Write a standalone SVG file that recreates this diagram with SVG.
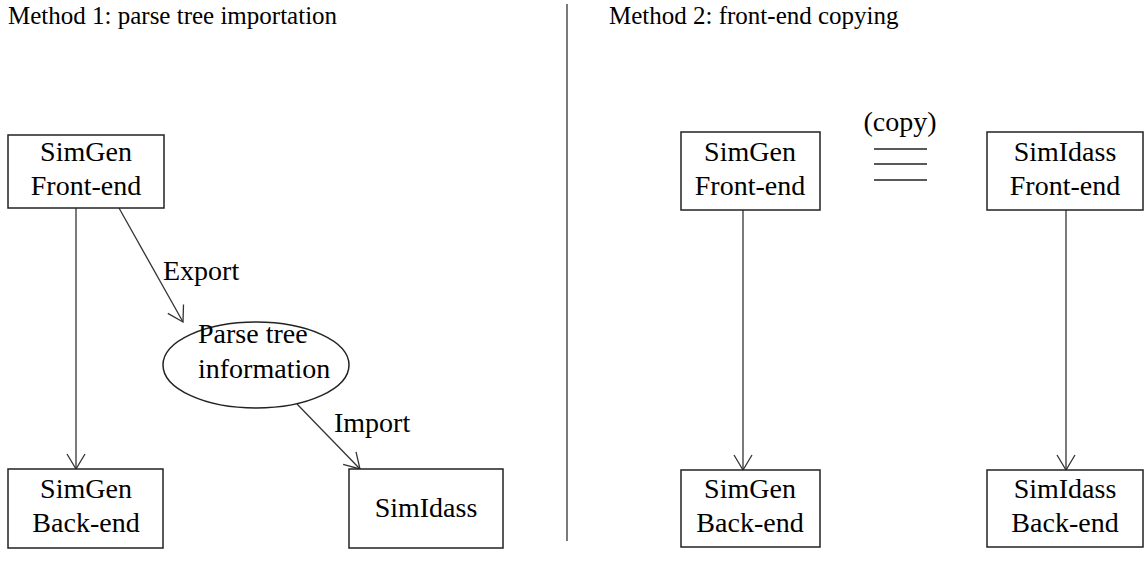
<svg xmlns="http://www.w3.org/2000/svg" width="1147" height="569" viewBox="0 0 1147 569">
<style>
.t,.n,.l{font-family:"Liberation Serif","Times New Roman",serif;fill:#000}
.t{font-size:25px}
.n{font-size:28px;text-anchor:middle}
.l{font-size:28px}
.box{fill:#fff;stroke:#222;stroke-width:1.5}
.edge{fill:none;stroke:#333;stroke-width:1.3}
</style>
<defs>
<marker id="arr" markerUnits="userSpaceOnUse" markerWidth="30" markerHeight="30" viewBox="-20 -15 30 30" refX="0" refY="0" orient="auto" overflow="visible">
<path d="M-15,-9 L0,0 L-15,9" fill="none" stroke="#333" stroke-width="1.3"/>
</marker>
</defs>
<rect width="1147" height="569" fill="#fff"/>
<text class="t" x="8" y="24">Method 1: parse tree importation</text>
<text class="t" x="609" y="24">Method 2: front-end copying</text>
<line x1="567" y1="4" x2="567" y2="541" stroke="#333" stroke-width="1.3"/>

<g id="connectors">
<line class="edge" x1="76" y1="208" x2="76" y2="469" marker-end="url(#arr)"/>
<line class="edge" x1="119" y1="208" x2="183" y2="322" marker-end="url(#arr)"/>
<line class="edge" x1="297" y1="404" x2="360" y2="469" marker-end="url(#arr)"/>
<line class="edge" x1="743" y1="210" x2="743" y2="470" marker-end="url(#arr)"/>
<line class="edge" x1="1066" y1="210" x2="1066" y2="470" marker-end="url(#arr)"/>
<text class="l" x="163" y="280">Export</text>
<text class="l" x="334" y="432">Import</text>
</g>

<g id="simgen-frontend-1">
<rect class="box" x="8" y="135" width="156" height="73"/>
<text class="n" x="86" y="161">SimGen</text>
<text class="n" x="86" y="195">Front-end</text>
</g>
<g id="simgen-backend-1">
<rect class="box" x="8" y="469" width="155" height="79"/>
<text class="n" x="86" y="498">SimGen</text>
<text class="n" x="86" y="532">Back-end</text>
</g>
<g id="parse-tree">
<ellipse cx="256" cy="365" rx="93" ry="43" fill="#fff" stroke="#222" stroke-width="1.5"/>
<text class="l" x="198" y="343">Parse tree</text>
<text class="l" x="198" y="378">information</text>
</g>
<g id="simidass-1">
<rect class="box" x="349" y="469" width="154" height="79"/>
<text class="n" x="426" y="517">SimIdass</text>
</g>

<g id="simgen-frontend-2">
<rect class="box" x="681" y="132" width="139" height="78"/>
<text class="n" x="750" y="161">SimGen</text>
<text class="n" x="750" y="195">Front-end</text>
</g>
<g id="copy">
<text class="n" x="900" y="131">(copy)</text>
<line x1="874" y1="149" x2="927" y2="149" stroke="#222" stroke-width="1.5"/>
<line x1="874" y1="164" x2="927" y2="164" stroke="#222" stroke-width="1.5"/>
<line x1="874" y1="180" x2="927" y2="180" stroke="#222" stroke-width="1.5"/>
</g>
<g id="simidass-frontend-2">
<rect class="box" x="987" y="132" width="156" height="78"/>
<text class="n" x="1065" y="161">SimIdass</text>
<text class="n" x="1065" y="195">Front-end</text>
</g>
<g id="simgen-backend-2">
<rect class="box" x="681" y="470" width="139" height="77"/>
<text class="n" x="750" y="498">SimGen</text>
<text class="n" x="750" y="532">Back-end</text>
</g>
<g id="simidass-backend-2">
<rect class="box" x="987" y="470" width="156" height="77"/>
<text class="n" x="1065" y="498">SimIdass</text>
<text class="n" x="1065" y="532">Back-end</text>
</g>
</svg>
